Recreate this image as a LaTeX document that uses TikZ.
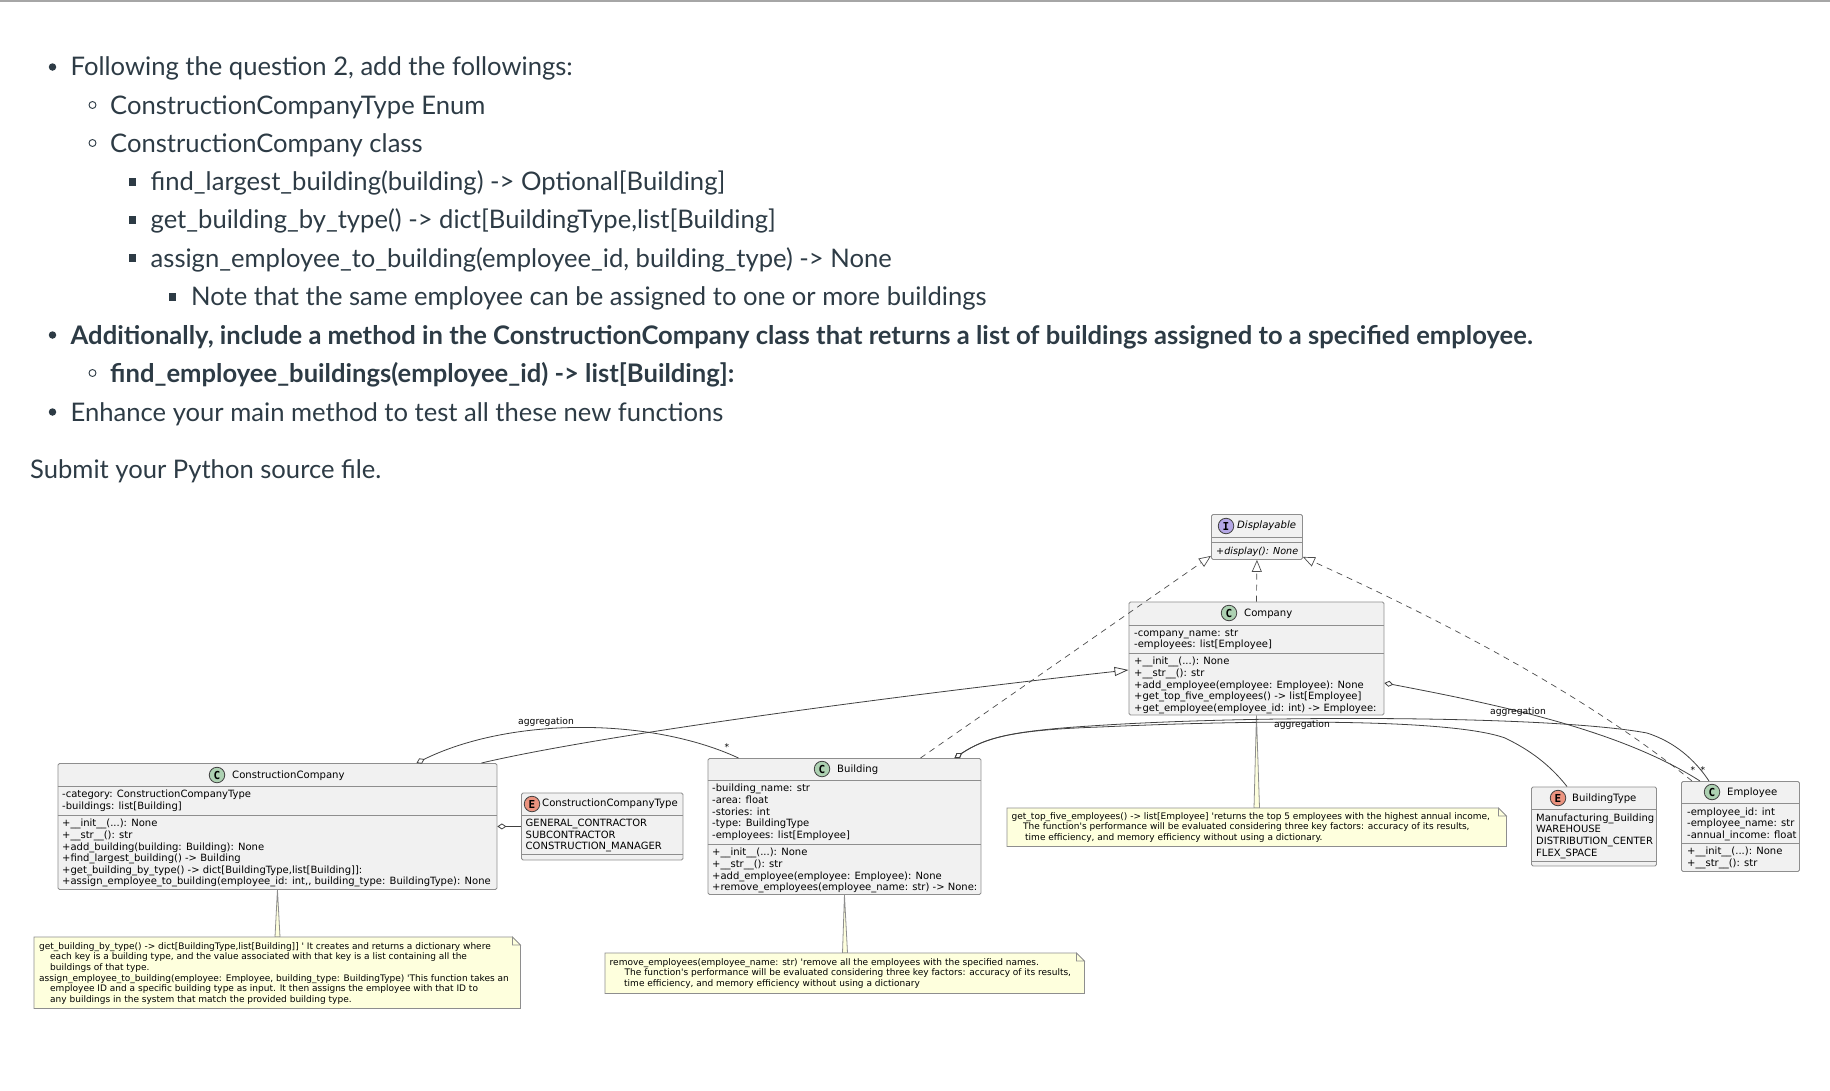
\documentclass[tikz,border=0pt]{standalone}
\usepackage{fontspec}
\usepackage{xcolor}
\usepackage{tikz}
\usetikzlibrary{arrows.meta}
\setmainfont{Lato}
\newfontfamily\umlfont{DejaVu Sans}
\newfontfamily\spotfont{DejaVu Sans Mono}[BoldFont={DejaVu Sans Mono Bold}]
\definecolor{bodytext}{HTML}{2D3B45}
\definecolor{boxfill}{HTML}{F1F1F1}
\definecolor{boxedge}{HTML}{8E8E8E}
\definecolor{notefill}{HTML}{FEFFDD}
\definecolor{spotc}{HTML}{ADD1B2}
\definecolor{spote}{HTML}{EB937F}
\definecolor{spoti}{HTML}{B4A7E5}
\tikzset{
    bodyline/.style={anchor=base west, inner sep=0pt, text=bodytext, font=\fontsize{25.6}{32}\selectfont},
    discbullet/.style={circle, fill=bodytext, inner sep=0pt, minimum size=7.5pt},
    ringbullet/.style={circle, draw=bodytext, line width=0.9pt, inner sep=0pt, minimum size=7pt},
    squarebullet/.style={rectangle, fill=bodytext, inner sep=0pt, minimum size=7.5pt},
    classbox/.style={draw=boxedge, fill=boxfill, line width=0.9pt, rounded corners=1.5pt, anchor=north west, inner sep=0pt},
    divider/.style={draw=boxedge, line width=0.9pt},
    spot/.style={circle, draw=black!75, line width=0.8pt, inner sep=0pt, minimum size=15.5pt, font=\spotfont\bfseries\fontsize{11}{11}\selectfont},
    classname/.style={anchor=west, inner sep=0pt, font=\umlfont\fontsize{10.1}{11.6}\selectfont},
    members/.style={anchor=north west, inner sep=0pt, align=left, font=\umlfont\fontsize{10}{11.6}\selectfont, execute at begin node={\strut}},
    notebox/.style={anchor=north west, inner sep=0pt},
    noteedge/.style={draw=boxedge, fill=notefill, line width=0.8pt},
    notetext/.style={anchor=north west, inner sep=0pt, align=left, font=\umlfont\fontsize{9}{10.7}\selectfont, execute at begin node={\strut}},
    edgelabel/.style={inner sep=0pt, font=\umlfont\fontsize{9.2}{10}\selectfont},
    realize/.style={draw=black!70, line width=0.7pt, dashed, dash pattern=on 6pt off 5pt, -{Triangle[open, length=12pt, width=10pt]}},
    extends/.style={draw=black!75, line width=0.8pt, -{Triangle[open, length=14pt, width=9pt]}},
    aggregate/.style={draw=black!75, line width=0.8pt, {Diamond[open, length=9pt, width=6pt]}-},
}
\begin{document}
\begin{tikzpicture}[x=1pt, y=-1pt]
    \useasboundingbox (0,0) rectangle (1830,1090);
    \draw [black!35, line width=1.6pt] (0,1) -- (1830,1);

    \node [discbullet] (bullet1) at (52.5,67) {};
    \node [bodyline] (line1) at (70.5,75) {Following the question 2, add the followings:};
    \node [ringbullet] (bullet2) at (92.5,105) {};
    \node [bodyline] (line2) at (110,114) {ConstructionCompanyType Enum};
    \node [ringbullet] (bullet3) at (92.5,143) {};
    \node [bodyline] (line3) at (110,152.5) {ConstructionCompany class};
    \node [squarebullet] (bullet4) at (132.5,182) {};
    \node [bodyline] (line4) at (150.5,190) {find\_largest\_building(building) -> Optional[Building]};
    \node [squarebullet] (bullet5) at (132.5,220) {};
    \node [bodyline] (line5) at (150.5,228.5) {get\_building\_by\_type() -> dict[BuildingType,list[Building]};
    \node [squarebullet] (bullet6) at (132.5,258) {};
    \node [bodyline] (line6) at (150.5,267) {assign\_employee\_to\_building(employee\_id, building\_type) -> None};
    \node [squarebullet] (bullet7) at (172.7,297) {};
    \node [bodyline] (line7) at (191,305.5) {Note that the same employee can be assigned to one or more buildings};
    \node [discbullet] (bullet8) at (52.5,335) {};
    \node [bodyline] (line8) at (70.5,344) {\bfseries Additionally, include a method in the ConstructionCompany class that returns a list of buildings assigned to a specified employee.};
    \node [ringbullet] (bullet9) at (92.5,373) {};
    \node [bodyline] (line9) at (110,382.5) {\bfseries find\_employee\_buildings(employee\_id) -> list[Building]:};
    \node [discbullet] (bullet10) at (52.5,412) {};
    \node [bodyline] (line10) at (70.5,421) {Enhance your main method to test all these new functions};
    \node [bodyline] (submit) at (30,478) {Submit your Python source file.};

    \node [classbox, minimum width=91pt, minimum height=45pt] (displayable) at (1211,514) {};
    \draw [divider] (1211,537) -- (1302,537);
    \draw [divider] (1211,542) -- (1302,542);
    \node [spot, fill=spoti] (displayable spot) at (1226,526) {I};
    \node [classname] (displayable name) at (1237,526) {\itshape Displayable};
    \node [members] (displayable methods) at (1216,546) {\fontsize{9.6}{11.6}\selectfont\itshape +display(): None};

    \node [classbox, minimum width=255pt, minimum height=113pt] (company) at (1128.5,601.5) {};
    \draw [divider] (1128.5,625) -- (1383.5,625);
    \draw [divider] (1128.5,653) -- (1383.5,653);
    \node [spot, fill=spotc] (company spot) at (1229,613) {C};
    \node [classname] (company name) at (1244,614) {Company};
    \node [members] (company attrs) at (1134,629) {-company\_name: str\\-employees: list[Employee]};
    \node [members] (company methods) at (1134,657) {+\_\_init\_\_(...): None\\+\_\_str\_\_(): str\\+add\_employee(employee: Employee): None\\+get\_top\_five\_employees() -> list[Employee]\\+get\_employee(employee\_id: int) -> Employee:};

    \node [classbox, minimum width=439pt, minimum height=126pt] (cc) at (57.5,763) {};
    \draw [divider] (57.5,786) -- (496.5,786);
    \draw [divider] (57.5,815) -- (496.5,815);
    \node [spot, fill=spotc] (cc spot) at (217,775) {C};
    \node [classname] (cc name) at (232,775.5) {ConstructionCompany};
    \node [members] (cc attrs) at (62,790) {-category: ConstructionCompanyType\\-buildings: list[Building]};
    \node [members] (cc methods) at (62,819) {+\_\_init\_\_(...): None\\+\_\_str\_\_(): str\\+add\_building(building: Building): None\\+find\_largest\_building() -> Building\\+get\_building\_by\_type() -> dict[BuildingType,list[Building]]:\\+assign\_employee\_to\_building(employee\_id: int,, building\_type: BuildingType): None};

    \node [classbox, minimum width=161.5pt, minimum height=67pt] (cctype) at (521,792.5) {};
    \draw [divider] (521,815) -- (682.5,815);
    \draw [divider] (521,854) -- (682.5,854);
    \node [spot, fill=spote] (cctype spot) at (532,804) {E};
    \node [classname] (cctype name) at (542,804) {ConstructionCompanyType};
    \node [members] (cctype values) at (525.5,819) {GENERAL\_CONTRACTOR\\SUBCONTRACTOR\\CONSTRUCTION\_MANAGER};

    \node [classbox, minimum width=273pt, minimum height=136pt] (building) at (707.5,758) {};
    \draw [divider] (707.5,780) -- (980.5,780);
    \draw [divider] (707.5,844) -- (980.5,844);
    \node [spot, fill=spotc] (building spot) at (822,769) {C};
    \node [classname] (building name) at (837,770) {Building};
    \node [members] (building attrs) at (712,784) {-building\_name: str\\-area: float\\-stories: int\\-type: BuildingType\\-employees: list[Employee]};
    \node [members] (building methods) at (712,848) {+\_\_init\_\_(...): None\\+\_\_str\_\_(): str\\+add\_employee(employee: Employee): None\\+remove\_employees(employee\_name: str) -> None:};

    \node [classbox, minimum width=125pt, minimum height=79pt] (buildingtype) at (1531,786.5) {};
    \draw [divider] (1531,809) -- (1656,809);
    \draw [divider] (1531,861) -- (1656,861);
    \node [spot, fill=spote] (buildingtype spot) at (1558,798) {E};
    \node [classname] (buildingtype name) at (1572,799) {BuildingType};
    \node [members] (buildingtype values) at (1536,813.5) {Manufacturing\_Building\\WAREHOUSE\\DISTRIBUTION\_CENTER\\FLEX\_SPACE};

    \node [classbox, minimum width=118pt, minimum height=90pt] (employee) at (1681,781) {};
    \draw [divider] (1681,803) -- (1799,803);
    \draw [divider] (1681,843) -- (1799,843);
    \node [spot, fill=spotc] (employee spot) at (1712,792) {C};
    \node [classname] (employee name) at (1727,793) {Employee};
    \node [members] (employee attrs) at (1687,807.5) {-employee\_id: int\\-employee\_name: str\\-annual\_income: float};
    \node [members] (employee methods) at (1687,847) {+\_\_init\_\_(...): None\\+\_\_str\_\_(): str};

    \node [notebox, minimum width=486pt, minimum height=71pt] (cc note) at (34,937) {};
    \node [notebox, minimum width=479pt, minimum height=40pt] (building note) at (605,953) {};
    \node [notebox, minimum width=499pt, minimum height=38pt] (company note) at (1007,808) {};
    \draw [noteedge] (cc.south) -- (275,937) -- (280,937) -- cycle;
    \draw [noteedge] (building.south) -- (842.5,953) -- (847.5,953) -- cycle;
    \draw [noteedge] (company.south) -- (1254,808) -- (1259.5,808) -- cycle;
    \draw [noteedge] (cc note.north west) -- ([xshift=-8pt]cc note.north east) -- ([yshift=-8pt]cc note.north east) -- (cc note.south east) -- (cc note.south west) -- cycle;
    \draw [noteedge] ([xshift=-8pt]cc note.north east) |- ([yshift=-8pt]cc note.north east) -- cycle;
    \draw [noteedge] (building note.north west) -- ([xshift=-8pt]building note.north east) -- ([yshift=-8pt]building note.north east) -- (building note.south east) -- (building note.south west) -- cycle;
    \draw [noteedge] ([xshift=-8pt]building note.north east) |- ([yshift=-8pt]building note.north east) -- cycle;
    \draw [noteedge] (company note.north west) -- ([xshift=-8pt]company note.north east) -- ([yshift=-8pt]company note.north east) -- (company note.south east) -- (company note.south west) -- cycle;
    \draw [noteedge] ([xshift=-8pt]company note.north east) |- ([yshift=-8pt]company note.north east) -- cycle;
    \node [notetext] (cc note text) at (39,942) {get\_building\_by\_type() -> dict[BuildingType,list[Building]] ' It creates and returns a dictionary where\\\hspace*{11pt}each key is a building type, and the value associated with that key is a list containing all the\\\hspace*{11pt}buildings of that type.\\assign\_employee\_to\_building(employee: Employee, building\_type: BuildingType) 'This function takes an\\\hspace*{11pt}employee ID and a specific building type as input. It then assigns the employee with that ID to\\\hspace*{11pt}any buildings in the system that match the provided building type.};
    \node [notetext] (building note text) at (609.5,958) {remove\_employees(employee\_name: str) 'remove all the employees with the specified names.\\\hspace*{15pt}The function's performance will be evaluated considering three key factors: accuracy of its results,\\\hspace*{14.5pt}time efficiency, and memory efficiency without using a dictionary};
    \node [notetext] (company note text) at (1011.5,812) {get\_top\_five\_employees() -> list[Employee] 'returns the top 5 employees with the highest annual income,\\\hspace*{11.5pt}The function's performance will be evaluated considering three key factors: accuracy of its results,\\\hspace*{13.5pt}time efficiency, and memory efficiency without using a dictionary.};

    \draw [realize] (company.north) -- (displayable.south);
    \draw [realize] ([xshift=213pt]building.north west) -- ([yshift=4pt]displayable.south west);
    \draw [realize] ([xshift=11pt]employee.north west) .. controls (1580,690) and (1430,615) .. ([yshift=3pt]displayable.south east);
    \draw [extends] ([xshift=424pt]cc.north west) .. controls (600,735) and (900,695) .. ([yshift=-11.5pt]company.west);
    \draw [aggregate] (cc.east) -- (cctype.west);
    \draw [aggregate] ([xshift=359pt]cc.north west) .. controls (510,717) and (650,717) .. ([xshift=31pt]building.north west);
    \draw [aggregate] ([xshift=247pt]building.north west) .. controls (985,738) and (1010,730) .. (1100,727) .. controls (1250,720) and (1450,718) .. (1505,738) .. controls (1530,750) and (1550,765) .. ([xshift=36pt]buildingtype.north west);
    \draw [aggregate] ([xshift=247pt]building.north west) .. controls (985,738) and (1010,731) .. (1090,726) .. controls (1250,715) and (1550,715) .. (1647,733) .. controls (1675,742) and (1695,760) .. ([xshift=28pt]employee.north west);
    \draw [aggregate] ([yshift=-24.5pt]company.east) .. controls (1500,705) and (1620,730) .. ([xshift=19pt]employee.north west);

    \node [edgelabel] (cc building label) at (546,722) {aggregation};
    \node [edgelabel] (cc building star) at (727,747) {*};
    \node [edgelabel] (building type label) at (1302,725) {aggregation};
    \node [edgelabel] (company employee label) at (1518,712) {aggregation};
    \node [edgelabel] (company employee star) at (1693,770) {*};
    \node [edgelabel] (building employee star) at (1703,770) {*};
\end{tikzpicture}
\end{document}
